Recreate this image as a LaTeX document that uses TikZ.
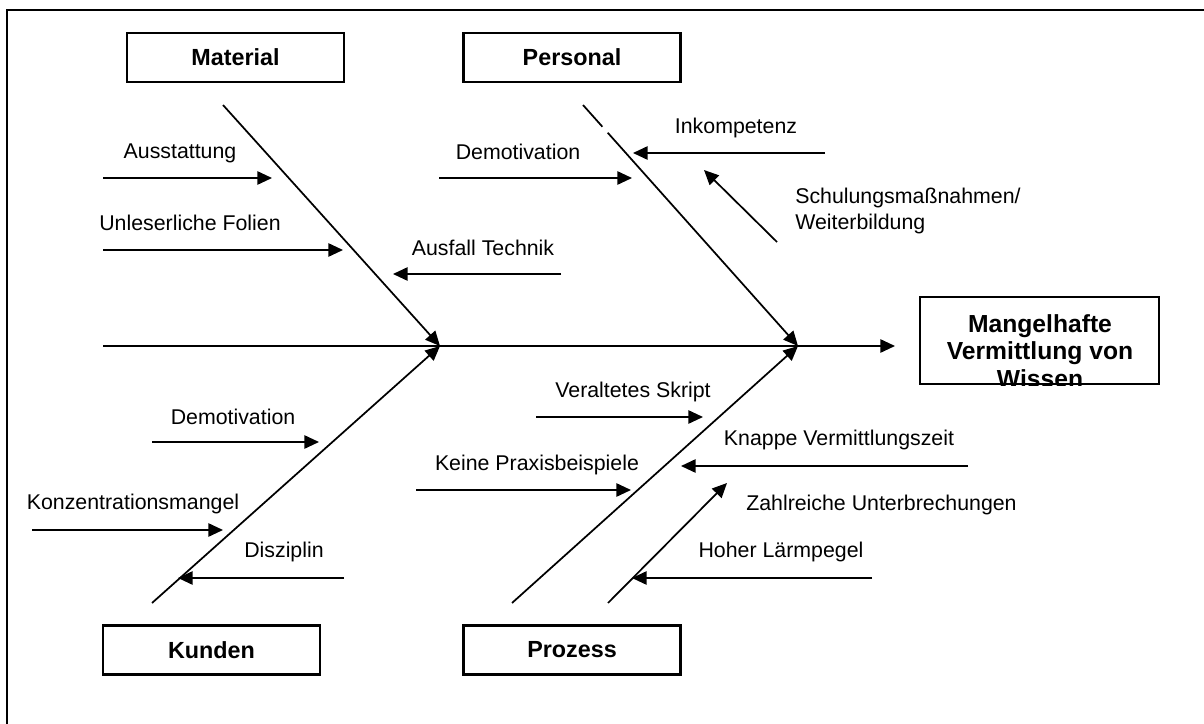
\documentclass[tikz,border=0pt]{standalone}
\usepackage{fontspec}
\setmainfont{Liberation Sans}
\usetikzlibrary{arrows.meta,calc}
\begin{document}
\begin{tikzpicture}[x=0.75pt,y=-0.75pt,
  lbl/.style={font=\fontsize{16}{19}\selectfont, inner sep=0pt},
  catbox/.style={draw, line width=1.8pt, minimum width=162.75pt, minimum height=36.75pt,
    inner sep=0pt, font=\bfseries\fontsize{17.5}{20}\selectfont},
  bone/.style={line width=1.3pt},
  tipped/.style={-{Triangle[length=11pt,width=10pt]}},
  cause/.style={line width=1.3pt, tipped},
]
\useasboundingbox (0,0) rectangle (1204,724);
\clip (0,0) rectangle (1204,724);

% outer frame
\draw[line width=1.5pt] (7,10) rectangle (1240,760);

% category boxes
\node[catbox] (material) at (235.5,57.5) {Material};
\node[catbox] (personal) at (572,57.5) {Personal};
\node[catbox] (kunden) at (211.5,650) {Kunden};
\node[catbox] (prozess) at (572,650) {Prozess};

% effect box, text clipped to the frame
\node[draw, line width=1.8pt, minimum width=179.25pt, minimum height=65.25pt, inner sep=0pt] (effect) at (1039.5,340.5) {};
\begin{scope}
  \clip (effect.south west) rectangle (effect.north east);
  \node[align=center, inner sep=0pt, font=\bfseries\fontsize{18.5}{20.5}\selectfont] (efftext) at (1040,351)
    {Mangelhafte\\Vermittlung von\\Wissen};
\end{scope}

% spine and main bones
\coordinate (spinestart) at (103,346);
\coordinate (spineend) at (895,346);
\coordinate (j1) at (440,346);
\coordinate (j2) at (798,346);
\coordinate (mtop) at (223,105);
\coordinate (ptop) at (583,105);
\coordinate (kbot) at (152,603);
\coordinate (zbot) at (512,603);
\coordinate (sbot) at (608,603);
\coordinate (stip) at (727,483);

\draw[cause] (spinestart) -- (spineend);
\draw[cause] (mtop) -- (j1);
\draw[bone] (ptop) -- ($(ptop)!0.09!(j2)$);
\draw[cause] ($(ptop)!0.115!(j2)$) -- (j2);
\draw[cause] (kbot) -- (j1);
\draw[cause] (zbot) -- (j2);
\draw[cause] (sbot) -- (stip);

% Material causes
\node[lbl] (ausst) at (180,153) {Ausstattung};
\coordinate (a1s) at (103,178); \coordinate (a1e) at (272,178);
\draw[cause] (a1s) -- (a1e);
\node[lbl] (folien) at (190,223) {Unleserliche Folien};
\coordinate (a2s) at (103,250); \coordinate (a2e) at (343,250);
\draw[cause] (a2s) -- (a2e);
\node[lbl] (technik) at (483,248) {Ausfall Technik};
\coordinate (a3s) at (561,274); \coordinate (a3e) at (393,274);
\draw[cause] (a3s) -- (a3e);

% Personal causes
\node[lbl] (demop) at (518,152) {Demotivation};
\coordinate (b1s) at (439,178); \coordinate (b1e) at (632,178);
\draw[cause] (b1s) -- (b1e);
\node[lbl] (inkomp) at (736,128) {Inkompetenz};
\coordinate (b2s) at (825,153); \coordinate (b2e) at (633,153);
\draw[cause] (b2s) -- (b2e);
\node[lbl, anchor=west, align=left] (schulung) at (795,211) {Schulungsmaßnahmen/\\Weiterbildung};
\coordinate (b3s) at (777,242); \coordinate (b3e) at (704,170);
\draw[cause] (b3s) -- (b3e);

% Kunden causes
\node[lbl] (demok) at (233,417) {Demotivation};
\coordinate (c1s) at (152,442); \coordinate (c1e) at (319,442);
\draw[cause] (c1s) -- (c1e);
\node[lbl] (konz) at (133,504) {Konzentrationsmangel};
\coordinate (c2s) at (32,530); \coordinate (c2e) at (223,530);
\draw[cause] (c2s) -- (c2e);
\node[lbl] (diszi) at (284,552) {Disziplin};
\coordinate (c3s) at (344,578); \coordinate (c3e) at (178,578);
\draw[cause] (c3s) -- (c3e);

% Prozess causes
\node[lbl] (skript) at (633,392) {Veraltetes Skript};
\coordinate (d1s) at (536,417); \coordinate (d1e) at (703,417);
\draw[cause] (d1s) -- (d1e);
\node[lbl] (praxis) at (537,465) {Keine Praxisbeispiele};
\coordinate (d2s) at (416,490); \coordinate (d2e) at (631,490);
\draw[cause] (d2s) -- (d2e);
\node[lbl] (knapp) at (839,440) {Knappe Vermittlungszeit};
\coordinate (d3s) at (968,466); \coordinate (d3e) at (681,466);
\draw[cause] (d3s) -- (d3e);
\node[lbl, anchor=west] (unterbr) at (746,505) {Zahlreiche Unterbrechungen};
\node[lbl] (laerm) at (781,552) {Hoher Lärmpegel};
\coordinate (d4s) at (872,578); \coordinate (d4e) at (632,578);
\draw[cause] (d4s) -- (d4e);
\end{tikzpicture}
\end{document}
